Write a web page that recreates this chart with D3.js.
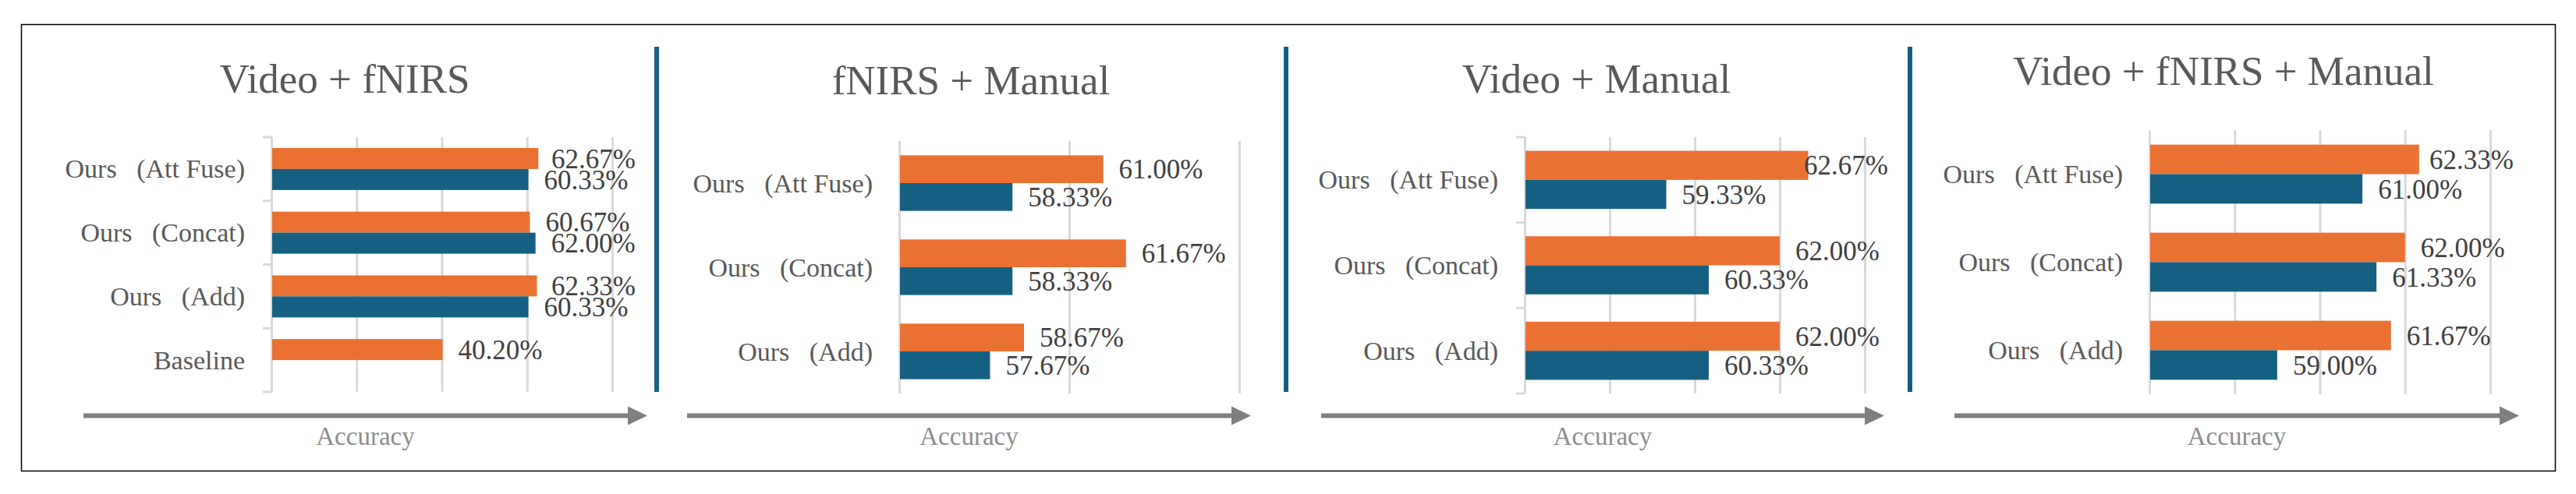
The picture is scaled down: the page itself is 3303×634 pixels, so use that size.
<!DOCTYPE html>
<html>
<head>
<meta charset="utf-8">
<script src="https://cdn.jsdelivr.net/npm/d3@7"></script>
<style>
  html, body { margin: 0; padding: 0; background: #ffffff; }
  svg { display: block; }
  text { font-family: "Liberation Serif", "DejaVu Serif", serif; }
</style>
</head>
<body>
<svg id="chart" width="3303" height="634"></svg>
<script>
// ---------------- DATA ----------------
const seriesNames = ["Orange series", "Blue series"];

const panel1Title = "Video + fNIRS";
const panel1Categories = ["Ours\u2002\u2005(Att Fuse)", "Ours\u2002\u2005(Concat)", "Ours\u2002\u2005(Add)", "Baseline"];
const panel1Orange = [62.67, 60.67, 62.33, 40.20];
const panel1Blue = [60.33, 62.00, 60.33, null];
const panel1Ticks = [0, 20, 40, 60, 80];

const panel2Title = "fNIRS + Manual";
const panel2Categories = ["Ours\u2002\u2005(Att Fuse)", "Ours\u2002\u2005(Concat)", "Ours\u2002\u2005(Add)"];
const panel2Orange = [61.00, 61.67, 58.67];
const panel2Blue = [58.33, 58.33, 57.67];
const panel2Ticks = [55, 60, 65];

const panel3Title = "Video + Manual";
const panel3Categories = ["Ours\u2002\u2005(Att Fuse)", "Ours\u2002\u2005(Concat)", "Ours\u2002\u2005(Add)"];
const panel3Orange = [62.67, 62.00, 62.00];
const panel3Blue = [59.33, 60.33, 60.33];
const panel3Ticks = [56, 58, 60, 62, 64];

const panel4Title = "Video + fNIRS + Manual";
const panel4Categories = ["Ours\u2002\u2005(Att Fuse)", "Ours\u2002\u2005(Concat)", "Ours\u2002\u2005(Add)"];
const panel4Orange = [62.33, 62.00, 61.67];
const panel4Blue = [61.00, 61.33, 59.00];
const panel4Ticks = [56, 58, 60, 62, 64];

const axisLabel = "Accuracy";

// ---------------- LAYOUT ----------------
const COLORS = { orange: "#E97132", blue: "#156082", grid: "#D9D9D9", sep: "#156082",
                 title: "#595959", cat: "#595959", val: "#404040", axisLbl: "#8C8C8C", arrow: "#7F7F7F" };

const layouts = [
  { x0: 348, x1: 785, y0: 176, y1: 503, pad: 0.34, catTicks: true,  titleX: 442,  titleY: 119, arrowX0: 107,  arrowX1: 830 },
  { x0: 1153, x1: 1589, y0: 181, y1: 505, pad: 0.34, catTicks: false, titleX: 1245, titleY: 121, arrowX0: 881,  arrowX1: 1604 },
  { x0: 1955, x1: 2391, y0: 176, y1: 505, pad: 0.32, catTicks: true,  titleX: 2047, titleY: 119, arrowX0: 1694, arrowX1: 2416 },
  { x0: 2756, x1: 3193, y0: 167, y1: 506, pad: 0.33, catTicks: false, titleX: 2851, titleY: 109, arrowX0: 2506, arrowX1: 3230 }
];

const panels = [
  { title: panel1Title, cats: panel1Categories, orange: panel1Orange, blue: panel1Blue, ticks: panel1Ticks },
  { title: panel2Title, cats: panel2Categories, orange: panel2Orange, blue: panel2Blue, ticks: panel2Ticks },
  { title: panel3Title, cats: panel3Categories, orange: panel3Orange, blue: panel3Blue, ticks: panel3Ticks },
  { title: panel4Title, cats: panel4Categories, orange: panel4Orange, blue: panel4Blue, ticks: panel4Ticks }
];

const separators = [842, 1649, 2449];

const svg = d3.select("#chart");

// outer frame
svg.append("rect")
  .attr("x", 27.5).attr("y", 31.5).attr("width", 3249).attr("height", 573)
  .attr("fill", "none").attr("stroke", "#000").attr("stroke-width", 1.5);

// separators
svg.selectAll("line.sep").data(separators).enter().append("line")
  .attr("class", "sep")
  .attr("x1", d => d).attr("x2", d => d)
  .attr("y1", 60).attr("y2", 503)
  .attr("stroke", COLORS.sep).attr("stroke-width", 6);

panels.forEach((p, i) => {
  const L = layouts[i];
  const g = svg.append("g");

  const x = d3.scaleLinear()
    .domain([p.ticks[0], p.ticks[p.ticks.length - 1]])
    .range([L.x0, L.x1]);

  const y = d3.scaleBand()
    .domain(p.cats)
    .range([L.y0, L.y1])
    .paddingInner(L.pad)
    .paddingOuter(L.pad / 2);

  const sub = d3.scaleBand()
    .domain(seriesNames)
    .range([0, y.bandwidth()]);

  // gridlines via axis
  const grid = g.append("g")
    .attr("transform", `translate(0,${L.y0})`)
    .call(d3.axisBottom(x).tickValues(p.ticks).tickSize(L.y1 - L.y0).tickFormat(""));
  grid.select(".domain").remove();
  grid.selectAll(".tick line").attr("stroke", COLORS.grid).attr("stroke-width", 3);

  // category ticks (band boundaries)
  if (L.catTicks) {
    const bounds = [L.y0].concat(p.cats.map(c => y(c) + y.bandwidth() + y.step() * L.pad / 2));
    g.selectAll("line.ct").data(bounds).enter().append("line")
      .attr("x1", x.range()[0] - 11).attr("x2", x.range()[0])
      .attr("y1", d => d).attr("y2", d => d)
      .attr("stroke", COLORS.grid).attr("stroke-width", 3);
  }

  // category labels via axis
  const cat = g.append("g")
    .attr("transform", `translate(${x.range()[0]},0)`)
    .call(d3.axisLeft(y).tickSize(0).tickPadding(34));
  cat.select(".domain").remove();
  cat.selectAll("text")
    .attr("fill", COLORS.cat)
    .style("font-size", "34px")
    .style("font-family", '"Liberation Serif", serif')
    .attr("dy", "0.34em");

  // bars
  const rows = [];
  p.cats.forEach((c, k) => {
    rows.push({ cat: c, s: seriesNames[0], v: p.orange[k], color: COLORS.orange });
    if (p.blue[k] !== null && p.blue[k] !== undefined)
      rows.push({ cat: c, s: seriesNames[1], v: p.blue[k], color: COLORS.blue });
  });

  g.selectAll("rect.bar").data(rows).enter().append("rect")
    .attr("class", "bar")
    .attr("x", x.range()[0] + 1)
    .attr("y", d => y(d.cat) + sub(d.s))
    .attr("width", d => x(d.v) - x.range()[0] - 1)
    .attr("height", sub.bandwidth())
    .attr("fill", d => d.color);

  // value labels
  const clampRight = x.range()[1] + 30;
  g.selectAll("text.val").data(rows).enter().append("text")
    .attr("class", "val")
    .attr("y", d => y(d.cat) + sub(d.s) + sub.bandwidth() / 2)
    .attr("dy", "0.35em")
    .attr("fill", COLORS.val)
    .style("font-size", "35px")
    .text(d => d.v.toFixed(2) + "%")
    .attr("x", function (d) {
      const w = this.getComputedTextLength();
      return Math.min(x(d.v) + 20, clampRight - w);
    });

  // title
  svg.append("text")
    .attr("x", L.titleX).attr("y", L.titleY)
    .attr("text-anchor", "middle")
    .attr("fill", COLORS.title)
    .style("font-size", "53px")
    .text(p.title);

  // arrow
  const ay = 533.5;
  svg.append("line")
    .attr("x1", L.arrowX0).attr("x2", L.arrowX1 - 22)
    .attr("y1", ay).attr("y2", ay)
    .attr("stroke", COLORS.arrow).attr("stroke-width", 6);
  svg.append("path")
    .attr("d", `M${L.arrowX1 - 25},${ay - 12} L${L.arrowX1},${ay} L${L.arrowX1 - 25},${ay + 12} Z`)
    .attr("fill", COLORS.arrow);

  svg.append("text")
    .attr("x", (L.arrowX0 + L.arrowX1) / 2).attr("y", 571)
    .attr("text-anchor", "middle")
    .attr("fill", COLORS.axisLbl)
    .style("font-size", "33px")
    .text(axisLabel);
});
</script>
</body>
</html>
